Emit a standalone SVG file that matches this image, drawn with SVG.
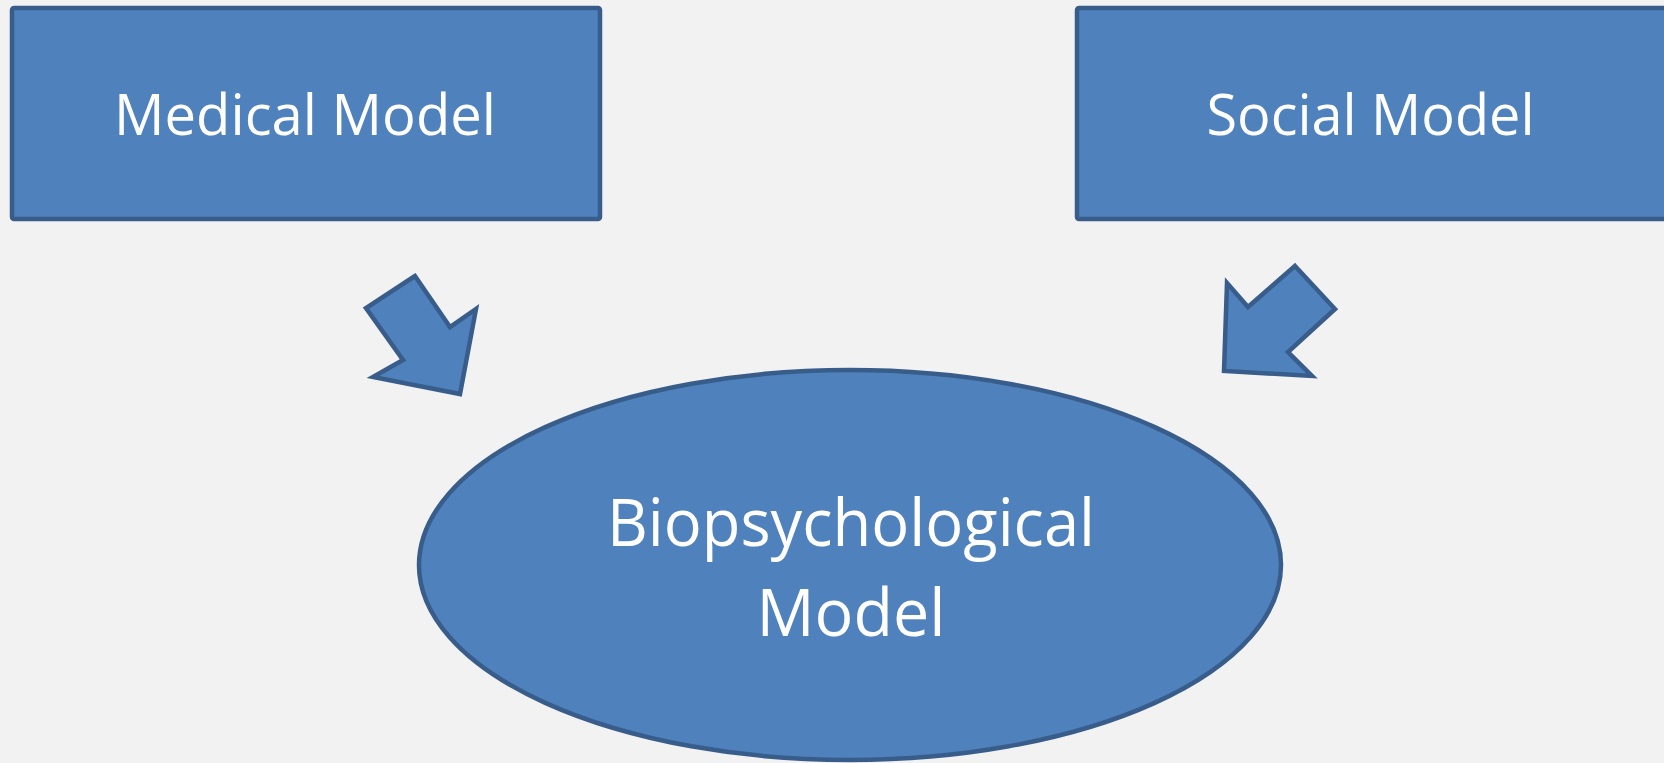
<svg xmlns="http://www.w3.org/2000/svg" width="1664" height="763" viewBox="0 0 1664 763">
<style>
.shape{fill:#4F81BD;stroke:#385D8A;stroke-width:4.5;stroke-linejoin:miter}
.lbl{font-family:"Open Sans","Noto Sans","Liberation Sans",sans-serif;fill:#FFFFFF;text-anchor:middle}
</style>
<rect x="0" y="0" width="1664" height="763" fill="#F2F2F2"/>
<g id="medical">
<rect class="shape" x="12" y="8" width="588" height="211" rx="2"/>
<text class="lbl" x="305" y="135" font-size="57" textLength="382" lengthAdjust="spacingAndGlyphs">Medical Model</text>
</g>
<g id="social">
<rect class="shape" x="1077" y="8" width="600" height="211" rx="2"/>
<text class="lbl" x="1370.5" y="135" font-size="57" textLength="328" lengthAdjust="spacingAndGlyphs">Social Model</text>
</g>
<g id="biopsychological">
<ellipse class="shape" cx="850" cy="565" rx="431" ry="195"/>
<text class="lbl" x="851" y="546" font-size="66" textLength="488" lengthAdjust="spacingAndGlyphs">Biopsychological</text>
<text class="lbl" x="851" y="636" font-size="66" textLength="189" lengthAdjust="spacingAndGlyphs">Model</text>
</g>
<g id="connectors">
<polygon class="shape" points="415,276 366,308 403,360 373,377 460,394 476,309 450,327"/>
<polygon class="shape" points="1295,266 1335,309 1288,352 1312,376 1224,371 1227,283 1248,307"/>
</g>
</svg>
